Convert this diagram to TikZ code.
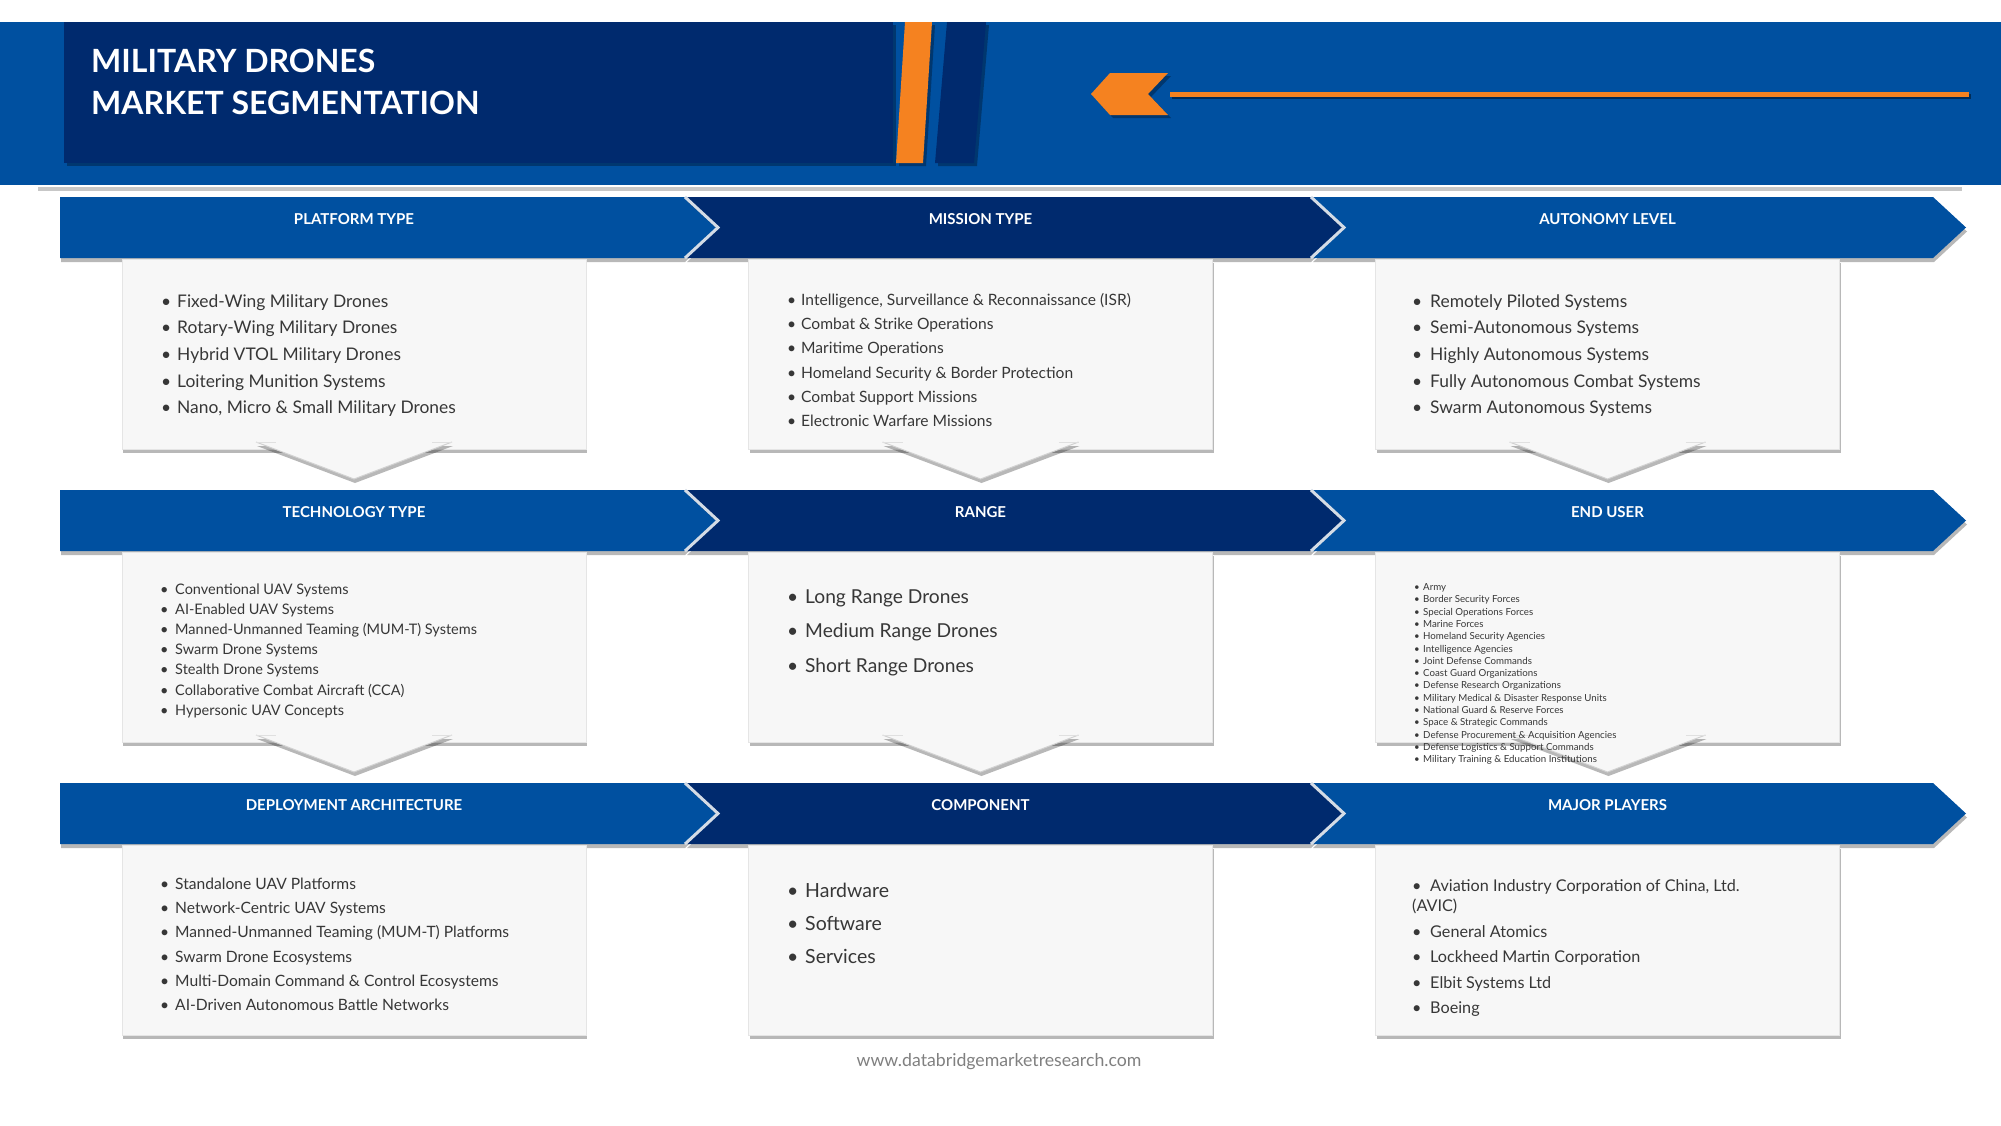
\documentclass[tikz,border=0pt]{standalone}
\usepackage{fontspec}
\setmainfont{Lato}
\usetikzlibrary{shadows}
\definecolor{bandblue}{RGB}{0,80,160}
\definecolor{navy}{RGB}{0,42,110}
\definecolor{orng}{RGB}{245,130,32}
\definecolor{boxfill}{RGB}{247,247,247}
\definecolor{txt}{RGB}{55,55,55}
\definecolor{sepc}{RGB}{212,220,230}
\newlength\bw
\newcommand\bul[1]{\makebox[\bw][l]{\textbullet}#1}
\begin{document}
\begin{tikzpicture}[x=1pt,y=-1pt,
  softshadow/.style={drop shadow={shadow xshift=1pt,shadow yshift=-4pt,opacity=0.28,fill=black}},
  smallshadow/.style={drop shadow={shadow xshift=3pt,shadow yshift=-3pt,opacity=0.3,fill=black}},
  boxstyle/.style={fill=boxfill,draw=black!10,line width=0.6pt,softshadow},
  tristyle/.style={fill=boxfill,softshadow},
  banlabel/.style={text=white,font=\fontsize{15}{18}\selectfont\bfseries,inner sep=0pt,anchor=center},
  listnode/.style={anchor=base west,inner sep=0pt,text=txt},
  sepline/.style={draw=sepc,line width=3pt,line join=miter}]
\useasboundingbox (0,0) rectangle (2001,1125);
\fill[white] (0,0) rectangle (2001,1125);

% ---------- header ----------
\fill[bandblue] (0,22) rectangle (2001,185);
\fill[white] (38,185) rectangle (1962,187);
\fill[black!22] (38,187) rectangle (1962,191);
\fill[navy,smallshadow] (64,22) rectangle (893,163);
\fill[orng,smallshadow] (905,22) -- (932,22) -- (923,163) -- (896,163) -- cycle;
\fill[navy,smallshadow] (947,22) -- (986,22) -- (974,163) -- (935,163) -- cycle;
\node[anchor=base west,inner sep=0pt,text=white] (title) at (91,72.5)
  {\parbox[t]{700pt}{\fontsize{32}{42}\selectfont\bfseries MILITARY DRONES\\MARKET SEGMENTATION}};
\fill[orng,smallshadow] (1091,94) -- (1110,73) -- (1168,73) -- (1148,94) -- (1168,115) -- (1110,115) -- cycle;
\coordinate (lineS) at (1170,94);
\coordinate (lineE) at (1969,94);
\draw[black!45!bandblue,line width=5pt] ([xshift=2pt,yshift=-2pt]lineS) -- ([xshift=2pt,yshift=-2pt]lineE);
\draw[orng,line width=5pt] (lineS) -- (lineE);

% ---------- banners ----------
\foreach \T/\tri in {197/1,490/1,783/0}{
  \pgfmathsetmacro\M{\T+30.5}
  \pgfmathsetmacro\B{\T+61}
  \fill[bandblue,softshadow] (60,\T) -- (684,\T) -- (717,\M) -- (684,\B) -- (60,\B) -- cycle;
  \fill[navy,softshadow] (686,\T) -- (1310,\T) -- (1343,\M) -- (1310,\B) -- (686,\B) -- (719,\M) -- cycle;
  \fill[bandblue,softshadow] (1312,\T) -- (1933,\T) -- (1966,\M) -- (1933,\B) -- (1312,\B) -- (1345,\M) -- cycle;
  \draw[sepline] (685,\T) -- (718,\M) -- (685,\B);
  \draw[sepline] (1311,\T) -- (1344,\M) -- (1311,\B);
  % boxes
  \foreach \cx in {354,980.5,1607.5}{
    \pgfmathsetmacro\bt{\T+62}
    \pgfmathsetmacro\bb{\T+252}
    \pgfmathsetmacro\tt{\T+245}
    \pgfmathsetmacro\tp{\T+282}
    \path[boxstyle] ({\cx-232},\bt) rectangle ({\cx+232},\bb);
    \ifnum\tri=1
    \path[tristyle] ({\cx-98},\tt) -- ({\cx+98},\tt) -- (\cx,\tp) -- cycle;
    \draw[black!18,line width=1pt] ({\cx-98},\tt) -- (\cx,\tp) -- ({\cx+98},\tt);
    \draw[black!12,line width=1pt] ({\cx-98},\tt) -- ({\cx-78},\tt);
    \draw[black!12,line width=1pt] ({\cx+78},\tt) -- ({\cx+98},\tt);
    \fi
  }
}

% ---------- banner labels ----------
\node[banlabel] (b1) at (354,219) {PLATFORM TYPE};
\node[banlabel] (b2) at (980.5,219) {MISSION TYPE};
\node[banlabel] (b3) at (1607.5,219) {AUTONOMY LEVEL};
\node[banlabel] (b4) at (354,512) {TECHNOLOGY TYPE};
\node[banlabel] (b5) at (980.5,512) {RANGE};
\node[banlabel] (b6) at (1607.5,512) {END USER};
\node[banlabel] (b7) at (354,805) {DEPLOYMENT ARCHITECTURE};
\node[banlabel] (b8) at (980.5,805) {COMPONENT};
\node[banlabel] (b9) at (1607.5,805) {MAJOR PLAYERS};

% ---------- lists ----------
\node[listnode] (l1) at (161,307) {\parbox[t]{420pt}{\fontsize{17.4}{26.7}\selectfont\setlength\bw{16pt}%
\bul{Fixed-Wing Military Drones}\\
\bul{Rotary-Wing Military Drones}\\
\bul{Hybrid VTOL Military Drones}\\
\bul{Loitering Munition Systems}\\
\bul{Nano, Micro \& Small Military Drones}}};

\node[listnode] (l2) at (787,305.5) {\parbox[t]{420pt}{\fontsize{15.6}{24.2}\selectfont\setlength\bw{14pt}%
\bul{Intelligence, Surveillance \& Reconnaissance (ISR)}\\
\bul{Combat \& Strike Operations}\\
\bul{Maritime Operations}\\
\bul{Homeland Security \& Border Protection}\\
\bul{Combat Support Missions}\\
\bul{Electronic Warfare Missions}}};

\node[listnode] (l3) at (1412,307) {\parbox[t]{420pt}{\fontsize{17.4}{26.7}\selectfont\setlength\bw{18pt}%
\bul{Remotely Piloted Systems}\\
\bul{Semi-Autonomous Systems}\\
\bul{Highly Autonomous Systems}\\
\bul{Fully Autonomous Combat Systems}\\
\bul{Swarm Autonomous Systems}}};

\node[listnode] (l4) at (160,594) {\parbox[t]{420pt}{\fontsize{14.5}{20.2}\selectfont\setlength\bw{15pt}%
\bul{Conventional UAV Systems}\\
\bul{AI-Enabled UAV Systems}\\
\bul{Manned-Unmanned Teaming (MUM-T) Systems}\\
\bul{Swarm Drone Systems}\\
\bul{Stealth Drone Systems}\\
\bul{Collaborative Combat Aircraft (CCA)}\\
\bul{Hypersonic UAV Concepts}}};

\node[listnode] (l5) at (787,603.5) {\parbox[t]{420pt}{\fontsize{19.2}{34.4}\selectfont\setlength\bw{18pt}%
\bul{Long Range Drones}\\
\bul{Medium Range Drones}\\
\bul{Short Range Drones}}};

\node[listnode] (l6) at (1414,590.5) {\parbox[t]{420pt}{\fontsize{9.7}{12.3}\selectfont\setlength\bw{9pt}%
\bul{Army}\\
\bul{Border Security Forces}\\
\bul{Special Operations Forces}\\
\bul{Marine Forces}\\
\bul{Homeland Security Agencies}\\
\bul{Intelligence Agencies}\\
\bul{Joint Defense Commands}\\
\bul{Coast Guard Organizations}\\
\bul{Defense Research Organizations}\\
\bul{Military Medical \& Disaster Response Units}\\
\bul{National Guard \& Reserve Forces}\\
\bul{Space \& Strategic Commands}\\
\bul{Defense Procurement \& Acquisition Agencies}\\
\bul{Defense Logistics \& Support Commands}\\
\bul{Military Training \& Education Institutions}}};

\node[listnode] (l7) at (160,889.5) {\parbox[t]{420pt}{\fontsize{15.6}{24.2}\selectfont\setlength\bw{15pt}%
\bul{Standalone UAV Platforms}\\
\bul{Network-Centric UAV Systems}\\
\bul{Manned-Unmanned Teaming (MUM-T) Platforms}\\
\bul{Swarm Drone Ecosystems}\\
\bul{Multi-Domain Command \& Control Ecosystems}\\
\bul{AI-Driven Autonomous Battle Networks}}};

\node[listnode] (l8) at (787,897.5) {\parbox[t]{420pt}{\fontsize{19.5}{33.2}\selectfont\setlength\bw{18pt}%
\bul{Hardware}\\
\bul{Software}\\
\bul{Services}}};

\node[listnode] (l9) at (1412,891) {\parbox[t]{420pt}{\fontsize{16.2}{20.7}\selectfont\setlength\bw{18pt}%
\bul{Aviation Industry Corporation of China, Ltd.}\\
(AVIC)\\[4.8pt]
\bul{General Atomics}\\[4.8pt]
\bul{Lockheed Martin Corporation}\\[4.8pt]
\bul{Elbit Systems Ltd}\\[4.8pt]
\bul{Boeing}}};

% ---------- footer ----------
\node[text=black!50,font=\fontsize{17.7}{22}\selectfont,inner sep=0pt] (footer) at (999,1061.5) {www.databridgemarketresearch.com};
\end{tikzpicture}
\end{document}
